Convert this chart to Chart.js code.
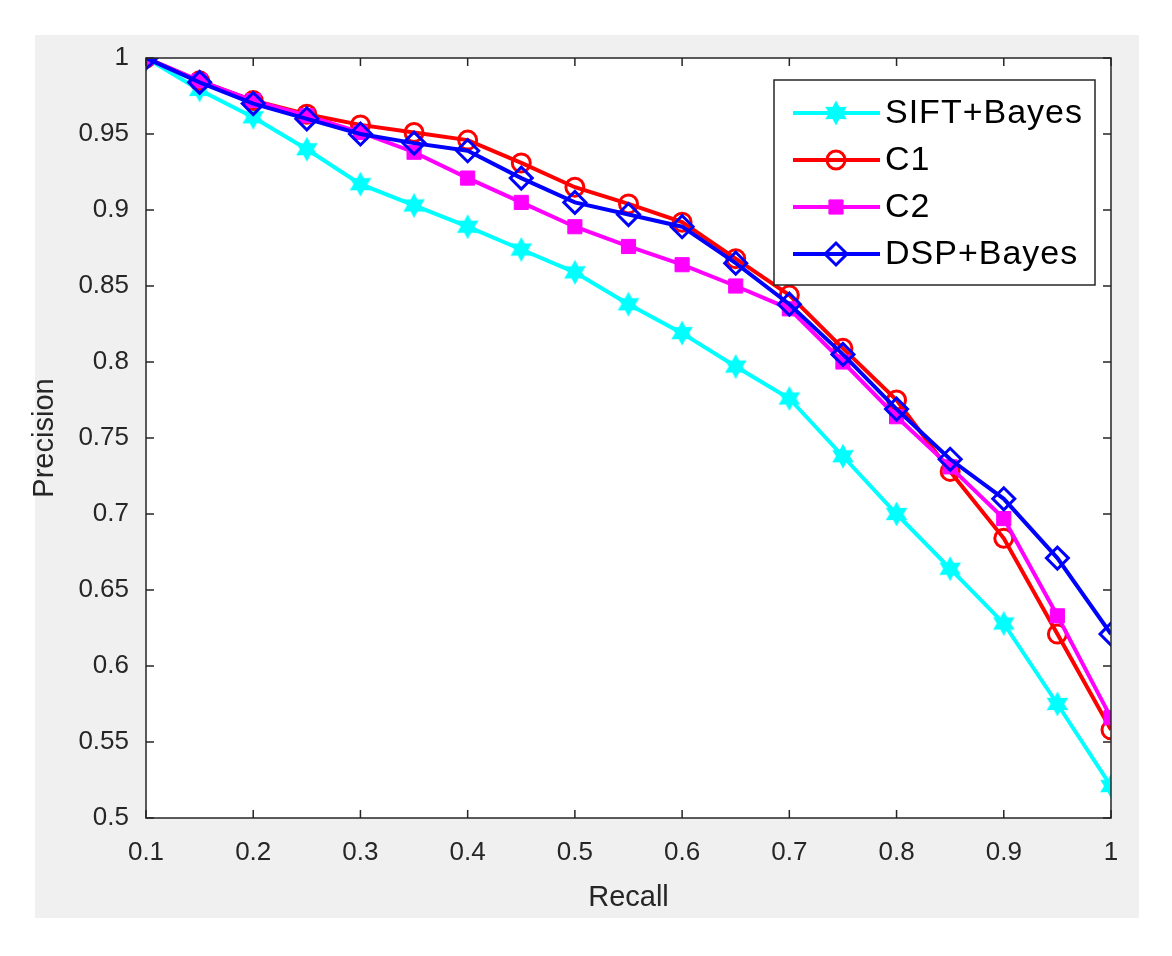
<!DOCTYPE html>
<html>
<head>
<meta charset="utf-8">
<script src="https://cdn.jsdelivr.net/npm/chart.js@4.4.1/dist/chart.umd.min.js"></script>
<style>
  html, body { margin: 0; padding: 0; background: #ffffff; }
  #grafico { display: block; }
</style>
</head>
<body>
<canvas id="grafico" width="1172" height="956"></canvas>
<script>
// Dados
const recall = [0.1, 0.15, 0.2, 0.25, 0.3, 0.35, 0.4, 0.45, 0.5, 0.55, 0.6, 0.65, 0.7, 0.75, 0.8, 0.85, 0.9, 0.95, 1.0];

const siftBayes = [1.0, 0.979, 0.961, 0.940, 0.917, 0.903, 0.889, 0.874, 0.859, 0.838, 0.819, 0.797, 0.776, 0.738, 0.700, 0.664, 0.628, 0.575, 0.521];
const c1 = [1.0, 0.985, 0.972, 0.963, 0.956, 0.951, 0.946, 0.931, 0.915, 0.904, 0.892, 0.868, 0.844, 0.809, 0.775, 0.728, 0.684, 0.621, 0.558];
const c2 = [1.0, 0.985, 0.972, 0.962, 0.951, 0.938, 0.921, 0.905, 0.889, 0.876, 0.864, 0.850, 0.835, 0.800, 0.764, 0.731, 0.697, 0.633, 0.566];
const dspBayes = [1.0, 0.984, 0.970, 0.960, 0.950, 0.944, 0.939, 0.921, 0.905, 0.897, 0.889, 0.865, 0.838, 0.805, 0.769, 0.736, 0.710, 0.671, 0.621];

const seriesNames = ["SIFT+Bayes", "C1", "C2", "DSP+Bayes"];
const xTicks = [0.1, 0.2, 0.3, 0.4, 0.5, 0.6, 0.7, 0.8, 0.9, 1.0];
const yTicks = [0.5, 0.55, 0.6, 0.65, 0.7, 0.75, 0.8, 0.85, 0.9, 0.95, 1.0];

const corEixo = "#262626";
const fonte = "'Liberation Sans', Arial, sans-serif";

// marcador hexagrama (estrela de 6 pontas) para SIFT+Bayes
function estrela(cor) {
    const c = document.createElement("canvas");
    c.width = 26; c.height = 26;
    const g = c.getContext("2d");
    g.fillStyle = cor;
    g.beginPath();
    for (let i = 0; i < 12; i++) {
        const r = i % 2 === 0 ? 12.5 : 7;
        const a = Math.PI / 2 + i * Math.PI / 6;
        const px = 13 + r * Math.cos(a), py = 13 + r * Math.sin(a);
        if (i === 0) g.moveTo(px, py); else g.lineTo(px, py);
    }
    g.closePath();
    g.fill();
    return c;
}

function pontos(valores) {
    return recall.map((x, i) => ({ x: x, y: valores[i] }));
}

// fundo cinza e área branca
const fundo = {
    id: "fundo",
    beforeDraw(chart) {
        const ctx = chart.ctx, a = chart.chartArea;
        ctx.save();
        ctx.fillStyle = "#f0f0f0";
        ctx.fillRect(35, 35, 1104, 883);
        ctx.fillStyle = "#ffffff";
        ctx.fillRect(a.left, a.top, a.right - a.left, a.bottom - a.top);
        ctx.restore();
    }
};

// caixa com ticks para dentro, estilo MATLAB
const caixa = {
    id: "caixa",
    afterDatasetsDraw(chart) {
        const ctx = chart.ctx, a = chart.chartArea;
        const sx = chart.scales.x, sy = chart.scales.y;
        ctx.save();
        ctx.strokeStyle = corEixo;
        ctx.lineWidth = 1.5;
        ctx.beginPath();
        xTicks.forEach(v => {
            const px = sx.getPixelForValue(v);
            ctx.moveTo(px, a.bottom); ctx.lineTo(px, a.bottom - 8);
            ctx.moveTo(px, a.top); ctx.lineTo(px, a.top + 8);
        });
        yTicks.forEach(v => {
            const py = sy.getPixelForValue(v);
            ctx.moveTo(a.left, py); ctx.lineTo(a.left + 8, py);
            ctx.moveTo(a.right, py); ctx.lineTo(a.right - 8, py);
        });
        ctx.stroke();
        ctx.strokeRect(a.left, a.top, a.right - a.left, a.bottom - a.top);
        ctx.restore();
    }
};

// legenda dentro do gráfico
const legenda = {
    id: "legenda",
    afterDraw(chart) {
        const ctx = chart.ctx;
        const x0 = 774, y0 = 80, w = 321, h = 205;
        ctx.save();
        ctx.fillStyle = "#ffffff";
        ctx.fillRect(x0, y0, w, h);
        ctx.strokeStyle = corEixo;
        ctx.lineWidth = 1.5;
        ctx.strokeRect(x0, y0, w, h);
        chart.data.datasets.forEach((ds, i) => {
            const y = y0 + 33 + i * 47;
            ctx.strokeStyle = ds.borderColor;
            ctx.lineWidth = ds.borderWidth;
            ctx.beginPath();
            ctx.moveTo(793, y); ctx.lineTo(880, y);
            ctx.stroke();
            ctx.fillStyle = ds.pointBackgroundColor;
            ctx.strokeStyle = ds.pointBorderColor;
            ctx.lineWidth = ds.pointBorderWidth;
            Chart.helpers.drawPoint(ctx, {
                pointStyle: ds.pointStyle,
                radius: ds.pointRadius,
                rotation: 0,
                borderWidth: ds.pointBorderWidth
            }, 836, y);
            ctx.fillStyle = "#000000";
            ctx.font = "34px " + fonte;
            ctx.letterSpacing = "1px";
            ctx.textBaseline = "middle";
            ctx.textAlign = "left";
            ctx.fillText(seriesNames[i], 885, y + 1);
        });
        ctx.restore();
    }
};

new Chart(document.getElementById("grafico"), {
    type: "line",
    data: {
        datasets: [
            {
                label: seriesNames[0], data: pontos(siftBayes), order: 4,
                borderColor: "#00ffff", borderWidth: 4,
                pointStyle: estrela("#00ffff"), pointRadius: 12,
                pointBackgroundColor: "#00ffff", pointBorderColor: "#00ffff", pointBorderWidth: 0
            },
            {
                label: seriesNames[1], data: pontos(c1), order: 3,
                borderColor: "#ff0000", borderWidth: 4,
                pointStyle: "circle", pointRadius: 9,
                pointBackgroundColor: "rgba(0,0,0,0)", pointBorderColor: "#ff0000", pointBorderWidth: 3
            },
            {
                label: seriesNames[2], data: pontos(c2), order: 2,
                borderColor: "#ff00ff", borderWidth: 4,
                pointStyle: "rect", pointRadius: 10,
                pointBackgroundColor: "#ff00ff", pointBorderColor: "#ff00ff", pointBorderWidth: 1
            },
            {
                label: seriesNames[3], data: pontos(dspBayes), order: 1,
                borderColor: "#0000ff", borderWidth: 4,
                pointStyle: "rectRot", pointRadius: 11,
                pointBackgroundColor: "rgba(0,0,0,0)", pointBorderColor: "#0000ff", pointBorderWidth: 3
            }
        ]
    },
    options: {
        responsive: false,
        animation: false,
        layout: { padding: { left: 30, top: 58, right: 61, bottom: 38 } },
        plugins: {
            legend: { display: false },
            tooltip: { enabled: false }
        },
        scales: {
            x: {
                type: "linear", min: 0.1, max: 1,
                afterBuildTicks: s => { s.ticks = xTicks.map(v => ({ value: v })); },
                afterFit: s => { s.height = 100; },
                grid: { display: false },
                border: { display: false },
                ticks: {
                    padding: 11, color: corEixo, maxRotation: 0,
                    font: { family: fonte, size: 26 },
                    callback: v => String(Number(v.toFixed(2)))
                },
                title: {
                    display: true, text: "Recall", color: corEixo,
                    font: { family: fonte, size: 29, lineHeight: 1 },
                    padding: { top: 0, bottom: 6 }
                }
            },
            y: {
                type: "linear", min: 0.5, max: 1,
                afterBuildTicks: s => { s.ticks = yTicks.map(v => ({ value: v })); },
                afterFit: s => { s.width = 116; },
                grid: { display: false },
                border: { display: false },
                ticks: {
                    padding: 9, color: corEixo,
                    font: { family: fonte, size: 26 },
                    callback: v => String(Number(v.toFixed(2)))
                },
                title: {
                    display: true, text: "Precision", color: corEixo,
                    font: { family: fonte, size: 29, lineHeight: 1 },
                    padding: { top: 0, bottom: 0 }
                }
            }
        }
    },
    plugins: [fundo, caixa, legenda]
});
</script>
</body>
</html>
